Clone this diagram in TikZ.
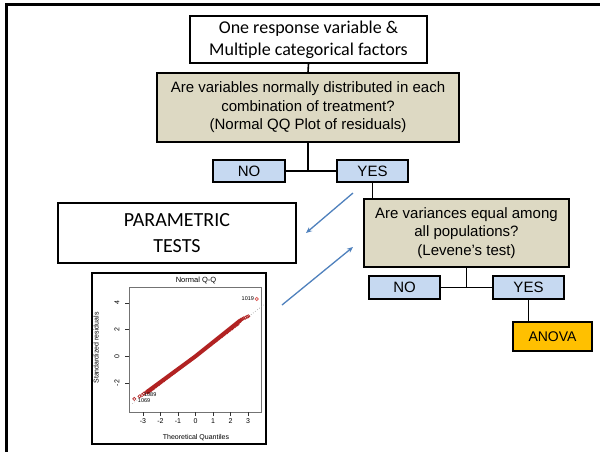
\documentclass[tikz,border=0pt]{standalone}
\usepackage{fontspec}
\setmainfont{Liberation Sans}
\newfontfamily\calfont{Carlito}
\usetikzlibrary{arrows.meta}
\definecolor{tanfill}{HTML}{DDD9C3}
\definecolor{bluefill}{HTML}{C6D9F1}
\definecolor{orangefill}{HTML}{FFC000}
\definecolor{arrowblue}{HTML}{4F81BD}
\definecolor{qqred}{HTML}{B22222}
\definecolor{qqpink}{HTML}{D9534F}
\begin{document}
\begin{tikzpicture}[x=1pt,y=-1pt,
  box/.style={draw=black, line width=1.3pt, align=center, inner sep=0pt, text=black},
  whitebox/.style={box, fill=white, font=\calfont\fontsize{18}{22}\selectfont},
  tanbox/.style={box, fill=tanfill, font=\fontsize{15}{18.5}\selectfont},
  ansbox/.style={box, fill=bluefill, font=\fontsize{15}{18}\selectfont},
  link/.style={draw=black, line width=1.6pt},
  hint/.style={draw=arrowblue, line width=1.3pt, -{Stealth[length=6pt,width=5pt]}},
  tick/.style={draw=black!80, line width=0.5pt},
  qqtext/.style={inner sep=0pt, font=\fontsize{7}{8}\selectfont},
  qqpt/.style={draw=qqred, line width=0.6pt},
]
\useasboundingbox (0,0) rectangle (600,451);
\fill[white] (0,0) rectangle (600,451);
% page border (left and top)
\draw[line width=2.5pt, line cap=rect] (6.5,451) -- (6.5,4.5) -- (600,4.5);

% flowchart boxes
\node[whitebox, minimum width=237pt, minimum height=47pt] (top) at (308.5,39.5)
  {One response variable \&\\Multiple categorical factors};
\node[tanbox, minimum width=302pt, minimum height=69pt] (q1) at (308,107.5)
  {Are variables normally distributed in each\\combination of treatment?\\(Normal QQ Plot of residuals)};
\node[ansbox, minimum width=72pt, minimum height=22pt] (no1) at (249,171) {NO};
\node[ansbox, minimum width=71pt, minimum height=22pt] (yes1) at (372.5,171) {YES};
\node[tanbox, minimum width=205pt, minimum height=68pt] (q2) at (466.5,233)
  {Are variances equal among\\all populations?\\(Levene’s test)};
\node[ansbox, minimum width=71pt, minimum height=23pt] (no2) at (404.5,287.5) {NO};
\node[ansbox, minimum width=71pt, minimum height=23pt] (yes2) at (528.5,287.5) {YES};
\node[box, fill=orangefill, minimum width=79pt, minimum height=29pt,
  font=\fontsize{14}{16}\selectfont] (anova) at (552.5,336.5) {ANOVA};
\node[whitebox, minimum width=238pt, minimum height=60pt,
  font=\calfont\fontsize{20}{26}\selectfont] (param) at (177,233) {PARAMETRIC\\TESTS};

% connectors
\draw[link] (top.south) -- (q1.north);
\draw[link] (q1.south) -- (q1.south |- no1.east);
\draw[link] (no1.east) -- (yes1.west);
\draw[link] (yes1.south) -- (yes1.south |- q2.north);
\draw[link] (q2.south) -- (q2.south |- no2.east);
\draw[link] (no2.east) -- (yes2.west);
\draw[link] (yes2.south) -- (yes2.south |- anova.north);

% blue hint arrows
\coordinate (a1s) at (353,193);
\coordinate (a1e) at (306,233);
\coordinate (a2s) at (282,305);
\coordinate (a2e) at (353,247);
\draw[hint] (a1s) -- (a1e);
\draw[hint] (a2s) -- (a2e);

% QQ plot
\draw[line width=1.2pt] (92,273) rectangle (266,444);
\draw[black!55, line width=0.6pt] (129,287) rectangle (261,412);
\node[qqtext, font=\fontsize{7.5}{9}\selectfont] (qqtitle) at (196,280) {Normal Q-Q};
\foreach \v in {-3,...,3} {
  \draw[tick] (195.5+17.5*\v,412) -- ++(0,4);
  \node[qqtext] (xt\v) at (195.5+17.5*\v,421) {\ifnum\v<0 -\the\numexpr-\v\relax\else\v\fi};
}
\foreach \v in {-2,0,2,4} {
  \draw[tick] (129,356.3-13.33*\v) -- ++(-4,0);
  \node[qqtext, rotate=90] (yt\v) at (117,356.3-13.33*\v) {\ifnum\v<0 -\the\numexpr-\v\relax\else\v\fi};
}
\node[qqtext, rotate=90] (ylab) at (96,348) {Standardized residuals};
\node[qqtext] (xlab) at (196,438) {Theoretical Quantiles};
\begin{scope}[shift={(195.5,356.3)}, x=17.5pt, y=13.33pt]
  \draw[black!45, dotted, line width=0.6pt] (-3.6,-3.55) -- (3.9,3.85);
  \draw[qqred, line width=4pt, line cap=round] (-2.75,-2.65) -- (0,0) -- (2.55,2.68);
  \foreach \t in {-2.7,-2.55,...,2.5} {
    \draw[qqpt] (\t,\t*1.0) circle[radius=1.6pt];
  }
  \foreach \a/\b in {-3.5/-3.2, -3.2/-3.0, -3.05/-2.9, -2.95/-2.8, -2.85/-2.72,
                     2.6/2.75, 2.68/2.8, 2.75/2.85, 2.85/2.9, 2.95/2.97, 3.02/3.0} {
    \draw[qqpt] (\a,\b) circle[radius=1.6pt];
  }
  \draw[draw=qqpink, line width=0.6pt] (3.5,4.3) circle[radius=1.6pt];
  \node[qqtext, anchor=east, font=\fontsize{5.5}{6}\selectfont] (l1019) at (3.35,4.3) {1019};
  \node[qqtext, anchor=west, font=\fontsize{5.5}{6}\selectfont] (l1089) at (-2.95,-2.85) {1089};
  \node[qqtext, anchor=west, font=\fontsize{5.5}{6}\selectfont] (l1069) at (-3.3,-3.35) {1069};
\end{scope}
\end{tikzpicture}
\end{document}
